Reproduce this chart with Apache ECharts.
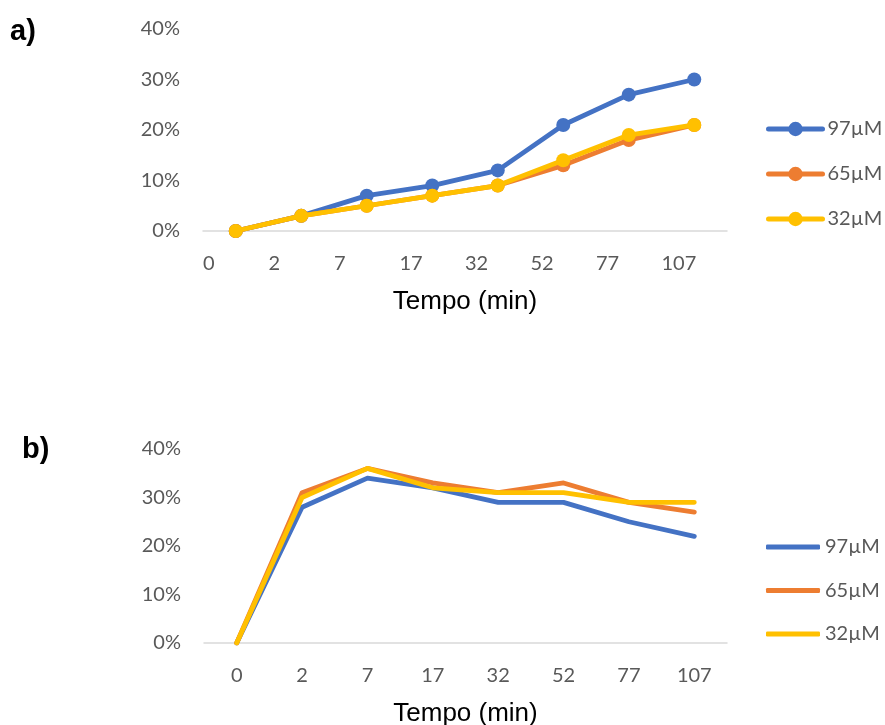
<!DOCTYPE html>
<html>
<head>
<meta charset="utf-8">
<script src="https://cdn.jsdelivr.net/npm/echarts@6/dist/echarts.min.js"></script>
<style>html,body{margin:0;padding:0;background:#fff}#c{width:885px;height:725px}</style>
</head>
<body>
<div id="c"></div>
<script>
var timeLabels = ['0','2','7','17','32','52','77','107'];
var seriesNames = ['97\u00b5M','65\u00b5M','32\u00b5M'];
var colors = ['#4472C4','#ED7D31','#FFC000'];
var a97 = [0,3,7,9,12,21,27,30];
var a65 = [0,3,5,7,9,13,18,21];
var a32 = [0,3,5,7,9,14,19,21];
var b97 = [0,28,34,32,29,29,25,22];
var b65 = [0,31,36,33,31,33,29,27];
var b32 = [0,30,36,32,31,31,29,29];
var yTicks = [0,10,20,30,40];

var chart = echarts.init(document.getElementById('c'), null, {renderer:'canvas'});
var labelFont = 'Lato';
var labelColor = '#595959';
var fs = 20;
function yAxis(gi){
  return {type:'value', gridIndex:gi, min:yTicks[0], max:yTicks[yTicks.length-1], interval:yTicks[1]-yTicks[0],
    splitLine:{show:false}, axisLine:{show:false}, axisTick:{show:false},
    axisLabel:{formatter:'{value}%', color:labelColor, fontFamily:labelFont, fontSize:fs, margin:23}};
}
var nameStyle = {color:'#000', fontFamily:'Liberation Sans', fontSize:26};
function mk(name, data, gi, sym){
  var i = seriesNames.indexOf(name);
  return {name:name, type:'line', data:data, xAxisIndex:gi===0?0:2, yAxisIndex:gi,
    symbol: sym?'circle':'none', symbolSize:14, showSymbol:sym,
    lineStyle:{color:colors[i], width:4.8, cap:'round', join:'round'},
    itemStyle:{color:colors[i]}, animation:false, z: 2+i};
}
function legendA(top){
  return {data:seriesNames.map(function(n){return {name:n};}), orient:'vertical', left:766, top:top,
     padding:0, itemWidth:54, itemHeight:18, itemGap:25,
     lineStyle:{width:5, cap:'round'},
     textStyle:{color:labelColor, fontFamily:labelFont, fontSize:fs},
     selectedMode:false};
}
function legendB(top){
  return {data:seriesNames.map(function(n){return {name:n, icon:'roundRect'};}), orient:'vertical', left:766, top:top,
     padding:0, itemWidth:54, itemHeight:5, itemGap:23.5,
     textStyle:{color:labelColor, fontFamily:labelFont, fontSize:fs},
     selectedMode:false};
}
chart.setOption({
  animation:false,
  grid:[{left:203, right:158, top:29, height:202, outerBoundsMode:'none', containLabel:false},
        {left:204, right:158, top:449, height:194, outerBoundsMode:'none', containLabel:false}],
  xAxis:[
    {type:'category', gridIndex:0, data:timeLabels, boundaryGap:true,
     axisLine:{lineStyle:{color:'#D9D9D9', width:1.5}}, axisTick:{show:false}, axisLabel:{show:false},
     name:'Tempo (min)', nameLocation:'middle', nameGap:58, nameTextStyle:nameStyle},
    {type:'category', gridIndex:0, data:timeLabels.concat(['']), boundaryGap:false, position:'bottom',
     axisLine:{show:false}, axisTick:{show:false},
     axisLabel:{interval:0, align:'left', color:labelColor, fontFamily:labelFont, fontSize:fs, margin:23}},
    {type:'category', gridIndex:1, data:timeLabels, boundaryGap:true,
     axisLine:{lineStyle:{color:'#D9D9D9', width:1.5}}, axisTick:{show:false},
     axisLabel:{interval:0, color:labelColor, fontFamily:labelFont, fontSize:fs, margin:23},
     name:'Tempo (min)', nameLocation:'middle', nameGap:58, nameTextStyle:nameStyle}
  ],
  yAxis:[yAxis(0), yAxis(1)],
  legend:[legendA(119), legendB(537)],
  graphic:[
    {type:'text', left:10, top:17, style:{text:'a)', font:'bold 29px "Liberation Sans"', fill:'#000'}},
    {type:'text', left:22, top:435, style:{text:'b)', font:'bold 29px "Liberation Sans"', fill:'#000'}}
  ],
  series:[mk(seriesNames[0],a97,0,true), mk(seriesNames[1],a65,0,true), mk(seriesNames[2],a32,0,true),
          mk(seriesNames[0],b97,1,false), mk(seriesNames[1],b65,1,false), mk(seriesNames[2],b32,1,false)]
});
</script>
</body>
</html>
